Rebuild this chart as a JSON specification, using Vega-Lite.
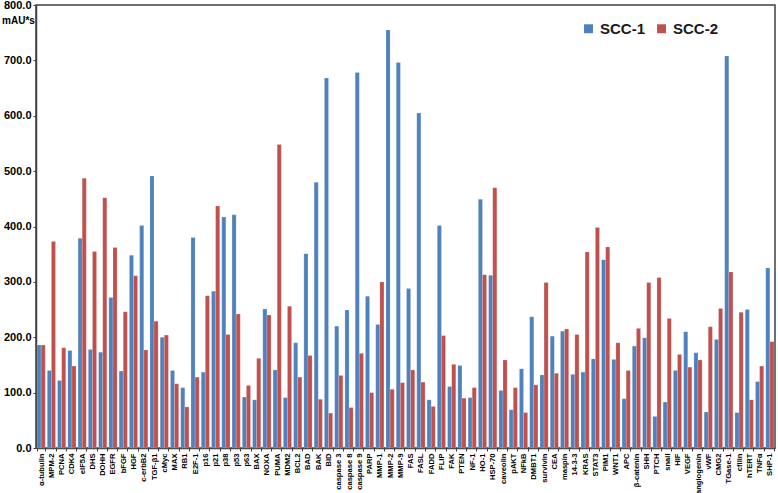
{
  "$schema": "https://vega.github.io/schema/vega-lite/v6.json",
  "width": 739,
  "height": 443,
  "autosize": {"type": "none"},
  "padding": {"left": 36, "top": 5, "right": 3, "bottom": 45},
  "background": "white",
  "config": {
    "view": {"stroke": "#404040", "strokeWidth": 1.5},
    "font": "Liberation Sans"
  },
  "data": {
    "values": [
      {"g": "α-tubulin", "s": "SCC-1", "v": 186}, {"g": "α-tubulin", "s": "SCC-2", "v": 186},
      {"g": "MPM-2", "s": "SCC-1", "v": 140}, {"g": "MPM-2", "s": "SCC-2", "v": 373},
      {"g": "PCNA", "s": "SCC-1", "v": 122}, {"g": "PCNA", "s": "SCC-2", "v": 181},
      {"g": "CDK4", "s": "SCC-1", "v": 176}, {"g": "CDK4", "s": "SCC-2", "v": 148},
      {"g": "eIF5A", "s": "SCC-1", "v": 379}, {"g": "eIF5A", "s": "SCC-2", "v": 487},
      {"g": "DHS", "s": "SCC-1", "v": 178}, {"g": "DHS", "s": "SCC-2", "v": 355},
      {"g": "DOHH", "s": "SCC-1", "v": 173}, {"g": "DOHH", "s": "SCC-2", "v": 452},
      {"g": "EGFR", "s": "SCC-1", "v": 272}, {"g": "EGFR", "s": "SCC-2", "v": 362},
      {"g": "bFGF", "s": "SCC-1", "v": 139}, {"g": "bFGF", "s": "SCC-2", "v": 246},
      {"g": "HGF", "s": "SCC-1", "v": 348}, {"g": "HGF", "s": "SCC-2", "v": 311},
      {"g": "c-erbB2", "s": "SCC-1", "v": 402}, {"g": "c-erbB2", "s": "SCC-2", "v": 177},
      {"g": "TGF-β1", "s": "SCC-1", "v": 491}, {"g": "TGF-β1", "s": "SCC-2", "v": 229},
      {"g": "cMyc", "s": "SCC-1", "v": 200}, {"g": "cMyc", "s": "SCC-2", "v": 204},
      {"g": "MAX", "s": "SCC-1", "v": 140}, {"g": "MAX", "s": "SCC-2", "v": 116},
      {"g": "RB1", "s": "SCC-1", "v": 109}, {"g": "RB1", "s": "SCC-2", "v": 74},
      {"g": "E2F-1", "s": "SCC-1", "v": 380}, {"g": "E2F-1", "s": "SCC-2", "v": 128},
      {"g": "p16", "s": "SCC-1", "v": 137}, {"g": "p16", "s": "SCC-2", "v": 275},
      {"g": "p21", "s": "SCC-1", "v": 283}, {"g": "p21", "s": "SCC-2", "v": 437},
      {"g": "p38", "s": "SCC-1", "v": 417}, {"g": "p38", "s": "SCC-2", "v": 205},
      {"g": "p53", "s": "SCC-1", "v": 421}, {"g": "p53", "s": "SCC-2", "v": 242},
      {"g": "p63", "s": "SCC-1", "v": 92}, {"g": "p63", "s": "SCC-2", "v": 113},
      {"g": "BAX", "s": "SCC-1", "v": 87}, {"g": "BAX", "s": "SCC-2", "v": 162},
      {"g": "NOXA", "s": "SCC-1", "v": 251}, {"g": "NOXA", "s": "SCC-2", "v": 240},
      {"g": "PUMA", "s": "SCC-1", "v": 141}, {"g": "PUMA", "s": "SCC-2", "v": 548},
      {"g": "MDM2", "s": "SCC-1", "v": 91}, {"g": "MDM2", "s": "SCC-2", "v": 256},
      {"g": "BCL2", "s": "SCC-1", "v": 190}, {"g": "BCL2", "s": "SCC-2", "v": 128},
      {"g": "BAD", "s": "SCC-1", "v": 351}, {"g": "BAD", "s": "SCC-2", "v": 167},
      {"g": "BAK", "s": "SCC-1", "v": 480}, {"g": "BAK", "s": "SCC-2", "v": 88},
      {"g": "BID", "s": "SCC-1", "v": 668}, {"g": "BID", "s": "SCC-2", "v": 63},
      {"g": "caspase 3", "s": "SCC-1", "v": 220}, {"g": "caspase 3", "s": "SCC-2", "v": 131},
      {"g": "caspase 8", "s": "SCC-1", "v": 249}, {"g": "caspase 8", "s": "SCC-2", "v": 73},
      {"g": "caspase 9", "s": "SCC-1", "v": 678}, {"g": "caspase 9", "s": "SCC-2", "v": 171},
      {"g": "PARP", "s": "SCC-1", "v": 274}, {"g": "PARP", "s": "SCC-2", "v": 100},
      {"g": "MMP-1", "s": "SCC-1", "v": 223}, {"g": "MMP-1", "s": "SCC-2", "v": 300},
      {"g": "MMP-2", "s": "SCC-1", "v": 755}, {"g": "MMP-2", "s": "SCC-2", "v": 106},
      {"g": "MMP-9", "s": "SCC-1", "v": 696}, {"g": "MMP-9", "s": "SCC-2", "v": 118},
      {"g": "FAS", "s": "SCC-1", "v": 288}, {"g": "FAS", "s": "SCC-2", "v": 141},
      {"g": "FASL", "s": "SCC-1", "v": 605}, {"g": "FASL", "s": "SCC-2", "v": 119},
      {"g": "FADD", "s": "SCC-1", "v": 87}, {"g": "FADD", "s": "SCC-2", "v": 75},
      {"g": "FLIP", "s": "SCC-1", "v": 402}, {"g": "FLIP", "s": "SCC-2", "v": 203},
      {"g": "FAK", "s": "SCC-1", "v": 111}, {"g": "FAK", "s": "SCC-2", "v": 151},
      {"g": "PTEN", "s": "SCC-1", "v": 149}, {"g": "PTEN", "s": "SCC-2", "v": 90},
      {"g": "NF-1", "s": "SCC-1", "v": 91}, {"g": "NF-1", "s": "SCC-2", "v": 109},
      {"g": "HO-1", "s": "SCC-1", "v": 449}, {"g": "HO-1", "s": "SCC-2", "v": 313},
      {"g": "HSP-70", "s": "SCC-1", "v": 312}, {"g": "HSP-70", "s": "SCC-2", "v": 470},
      {"g": "caveolin", "s": "SCC-1", "v": 104}, {"g": "caveolin", "s": "SCC-2", "v": 159},
      {"g": "pAKT", "s": "SCC-1", "v": 69}, {"g": "pAKT", "s": "SCC-2", "v": 109},
      {"g": "NFkB", "s": "SCC-1", "v": 143}, {"g": "NFkB", "s": "SCC-2", "v": 64},
      {"g": "DMBT1", "s": "SCC-1", "v": 237}, {"g": "DMBT1", "s": "SCC-2", "v": 114},
      {"g": "survivin", "s": "SCC-1", "v": 132}, {"g": "survivin", "s": "SCC-2", "v": 299},
      {"g": "CEA", "s": "SCC-1", "v": 202}, {"g": "CEA", "s": "SCC-2", "v": 135},
      {"g": "maspin", "s": "SCC-1", "v": 211}, {"g": "maspin", "s": "SCC-2", "v": 215},
      {"g": "14-3-3", "s": "SCC-1", "v": 133}, {"g": "14-3-3", "s": "SCC-2", "v": 205},
      {"g": "KRAS", "s": "SCC-1", "v": 137}, {"g": "KRAS", "s": "SCC-2", "v": 354},
      {"g": "STAT3", "s": "SCC-1", "v": 161}, {"g": "STAT3", "s": "SCC-2", "v": 398},
      {"g": "PIM1", "s": "SCC-1", "v": 340}, {"g": "PIM1", "s": "SCC-2", "v": 363},
      {"g": "WNT1", "s": "SCC-1", "v": 160}, {"g": "WNT1", "s": "SCC-2", "v": 190},
      {"g": "APC", "s": "SCC-1", "v": 89}, {"g": "APC", "s": "SCC-2", "v": 140},
      {"g": "β-catenin", "s": "SCC-1", "v": 184}, {"g": "β-catenin", "s": "SCC-2", "v": 216},
      {"g": "SHH", "s": "SCC-1", "v": 199}, {"g": "SHH", "s": "SCC-2", "v": 299},
      {"g": "PTCH", "s": "SCC-1", "v": 57}, {"g": "PTCH", "s": "SCC-2", "v": 308},
      {"g": "snail", "s": "SCC-1", "v": 83}, {"g": "snail", "s": "SCC-2", "v": 234},
      {"g": "HIF", "s": "SCC-1", "v": 140}, {"g": "HIF", "s": "SCC-2", "v": 169},
      {"g": "VEGF", "s": "SCC-1", "v": 210}, {"g": "VEGF", "s": "SCC-2", "v": 146},
      {"g": "angiogenin", "s": "SCC-1", "v": 172}, {"g": "angiogenin", "s": "SCC-2", "v": 159},
      {"g": "vWF", "s": "SCC-1", "v": 65}, {"g": "vWF", "s": "SCC-2", "v": 219},
      {"g": "CMG2", "s": "SCC-1", "v": 196}, {"g": "CMG2", "s": "SCC-2", "v": 252},
      {"g": "TGase-1", "s": "SCC-1", "v": 708}, {"g": "TGase-1", "s": "SCC-2", "v": 318},
      {"g": "cfilin", "s": "SCC-1", "v": 64}, {"g": "cfilin", "s": "SCC-2", "v": 245},
      {"g": "hTERT", "s": "SCC-1", "v": 250}, {"g": "hTERT", "s": "SCC-2", "v": 87},
      {"g": "TNFα", "s": "SCC-1", "v": 120}, {"g": "TNFα", "s": "SCC-2", "v": 148},
      {"g": "SHP-1", "s": "SCC-1", "v": 325}, {"g": "SHP-1", "s": "SCC-2", "v": 192}
    ]
  },
  "mark": {"type": "bar", "stroke": "white", "strokeWidth": 0.3, "strokeOpacity": 0.6},
  "encoding": {
    "x": {
      "field": "g",
      "type": "nominal",
      "sort": null,
      "scale": {"paddingInner": 0.2, "paddingOuter": 0.1},
      "axis": {
        "title": null,
        "labelAngle": 270,
        "labelAlign": "right",
        "labelBaseline": "middle",
        "labelFont": "Liberation Sans",
        "labelFontSize": 7.6,
        "labelFontWeight": "bold",
        "labelColor": "#000000",
        "labelPadding": 2,
        "labelLimit": 0,
        "labelOverlap": false,
        "domainColor": "#404040",
        "domainWidth": 1.5,
        "tickColor": "#404040",
        "tickSize": 3,
        "tickBand": "extent"
      }
    },
    "xOffset": {"field": "s", "type": "nominal", "scale": {"paddingInner": 0}},
    "y": {
      "field": "v",
      "type": "quantitative",
      "scale": {"domain": [0, 800], "nice": false},
      "axis": {
        "values": [0, 100, 200, 300, 400, 500, 600, 700, 800],
        "format": ".1f",
        "grid": false,
        "labelFontSize": 11,
        "labelFontWeight": "bold",
        "labelColor": "#000000",
        "labelPadding": 2,
        "domainColor": "#404040",
        "domainWidth": 1.5,
        "tickColor": "#404040",
        "tickSize": 3,
        "title": "mAU*s",
        "titleAngle": 0,
        "titleAlign": "center",
        "titleBaseline": "middle",
        "titleX": -18,
        "titleY": 15,
        "titleFontSize": 10,
        "titleFontWeight": "bold",
        "titleColor": "#000000"
      }
    },
    "color": {
      "field": "s",
      "type": "nominal",
      "scale": {"domain": ["SCC-1", "SCC-2"], "range": ["#4F81BD", "#C0504D"]},
      "legend": {
        "title": null,
        "orient": "none",
        "legendX": 545,
        "legendY": 16,
        "direction": "horizontal",
        "symbolType": "square",
        "symbolSize": 80,
        "symbolStrokeWidth": 0,
        "labelFontSize": 15,
        "labelFontWeight": "bold",
        "labelColor": "#1a1a1a",
        "columnPadding": 8,
        "labelOffset": 4
      }
    }
  }
}
